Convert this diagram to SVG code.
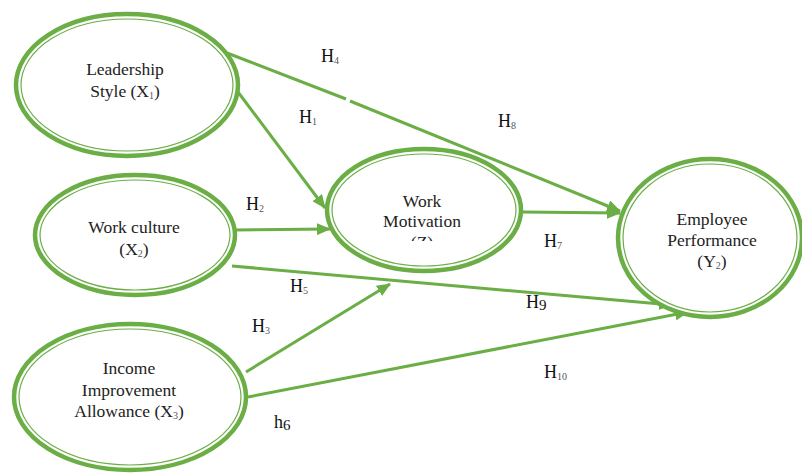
<svg xmlns="http://www.w3.org/2000/svg" width="802" height="474" viewBox="0 0 802 474">
<style>
.o{fill:#fff;stroke:#6aae45;stroke-width:4.5}
.i{fill:none;stroke:#6aae45;stroke-width:1.2}
.t{font-family:"Liberation Serif","Times New Roman",serif;font-size:17.5px;fill:#222;text-anchor:middle}
.l{font-family:"Liberation Serif","Times New Roman",serif;font-size:18px;fill:#111}
.s{font-size:10px;fill:#555}
.c{stroke:#6aae45;stroke-width:3;fill:none}
</style>
<defs>
<marker id="a" markerUnits="userSpaceOnUse" markerWidth="14" markerHeight="12" refX="13" refY="6" orient="auto">
<path d="M0,0 L14,6 L0,12 Z" fill="#6aae45"/>
</marker>
<clipPath id="cz"><rect x="300" y="150" width="250" height="91"/></clipPath>
</defs>
<g id="connectors">
<line class="c" x1="227" y1="53" x2="346" y2="99"/>
<line class="c" x1="350" y1="101" x2="620" y2="211" marker-end="url(#a)"/>
<line class="c" x1="238" y1="92" x2="325" y2="208" marker-end="url(#a)"/>
<line class="c" x1="235" y1="230" x2="330" y2="229" stroke-width="2" marker-end="url(#a)"/>
<line class="c" x1="232" y1="266" x2="672" y2="305" marker-end="url(#a)"/>
<line class="c" x1="246" y1="372" x2="390" y2="284" marker-end="url(#a)"/>
<line class="c" x1="248" y1="397" x2="688" y2="312" marker-end="url(#a)"/>
<line class="c" x1="522" y1="212" x2="620" y2="213" marker-end="url(#a)"/>
</g>
<g id="leadership">
<ellipse class="o" cx="127" cy="85" rx="111" ry="71"/>
<ellipse class="i" cx="127" cy="85" rx="106" ry="66"/>
<text class="t" x="125" y="75">Leadership</text>
<text class="t" x="125" y="97">Style (X<tspan class="s" dy="2">1</tspan><tspan dy="-2">)</tspan></text>
</g>
<g id="workculture">
<ellipse class="o" cx="135" cy="235" rx="100" ry="60"/>
<ellipse class="i" cx="135" cy="235" rx="95" ry="55"/>
<text class="t" x="134" y="233">Work culture</text>
<text class="t" x="134" y="255">(X<tspan class="s" dy="2">2</tspan><tspan dy="-2">)</tspan></text>
</g>
<g id="income">
<ellipse class="o" cx="130" cy="397" rx="116" ry="73"/>
<ellipse class="i" cx="130" cy="397" rx="111" ry="68"/>
<text class="t" x="129" y="374">Income</text>
<text class="t" x="129" y="396">Improvement</text>
<text class="t" x="129" y="417">Allowance (X<tspan class="s" dy="2">3</tspan><tspan dy="-2">)</tspan></text>
</g>
<g id="motivation">
<ellipse class="o" cx="424" cy="210" rx="97" ry="61"/>
<ellipse class="i" cx="424" cy="210" rx="92" ry="56"/>
<text class="t" x="422" y="207">Work</text>
<text class="t" x="422" y="227">Motivation</text>
<text class="t" x="422" y="248" clip-path="url(#cz)">(Z)</text>
</g>
<g id="performance">
<ellipse class="o" cx="710" cy="238" rx="92" ry="79"/>
<ellipse class="i" cx="710" cy="238" rx="87" ry="74"/>
<text class="t" x="712" y="225">Employee</text>
<text class="t" x="712" y="246">Performance</text>
<text class="t" x="712" y="267">(Y<tspan class="s" dy="2">2</tspan><tspan dy="-2">)</tspan></text>
</g>
<g id="labels">
<text class="l" x="321" y="62">H<tspan class="s" dy="2">4</tspan></text>
<text class="l" x="299" y="123">H<tspan class="s" dy="2">1</tspan></text>
<text class="l" x="498" y="127">H<tspan class="s" dy="2">8</tspan></text>
<text class="l" x="246" y="210">H<tspan class="s" dy="2">2</tspan></text>
<text class="l" x="544" y="247">H<tspan class="s" dy="2">7</tspan></text>
<text class="l" x="290" y="292">H<tspan class="s" dy="2">5</tspan></text>
<text class="l" x="526" y="308">H<tspan font-size="15" dy="2">9</tspan></text>
<text class="l" x="252" y="332">H<tspan class="s" dy="2">3</tspan></text>
<text class="l" x="544" y="378">H<tspan class="s" dy="2">10</tspan></text>
<text class="l" x="274" y="428">h<tspan font-size="15" dy="2">6</tspan></text>
</g>
</svg>
